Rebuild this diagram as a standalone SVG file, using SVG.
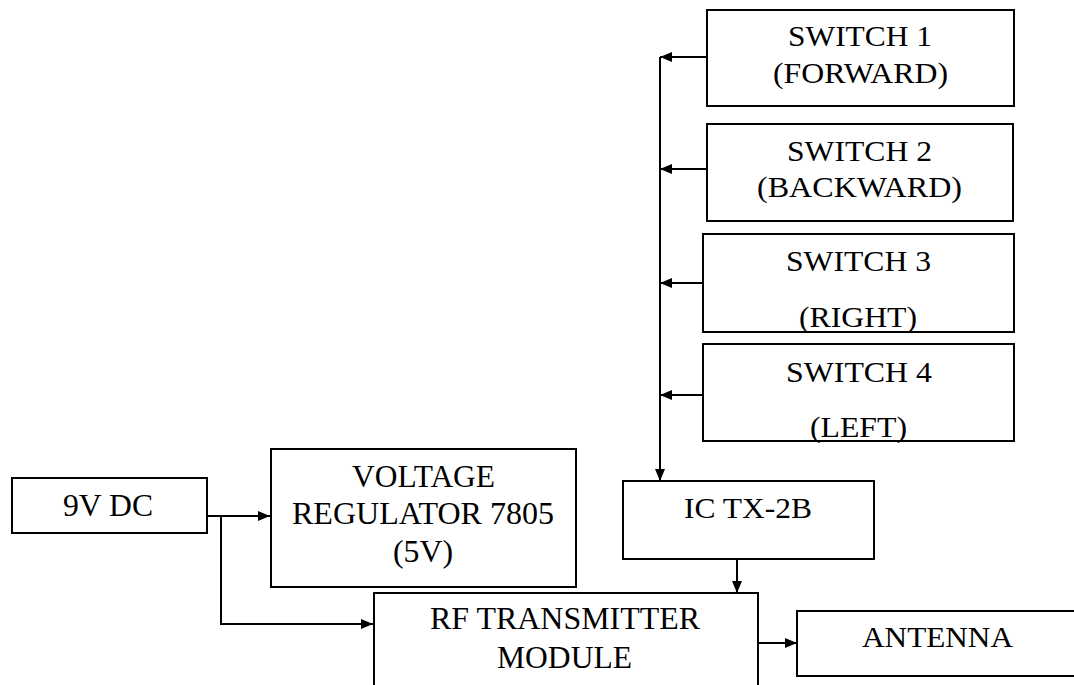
<svg xmlns="http://www.w3.org/2000/svg" width="1074" height="685" viewBox="0 0 1074 685">
<defs>
<style>
.box{fill:#fff;stroke:#000;stroke-width:2}
.t{font-family:"Liberation Serif","Times New Roman",serif;fill:#000;text-anchor:middle}
.s{font-size:29px}
.l{font-size:32px}
.c{fill:none;stroke:#000;stroke-width:2}
</style>
<marker id="ah" markerUnits="userSpaceOnUse" markerWidth="12" markerHeight="10" refX="12" refY="5" orient="auto">
<path d="M0,0 L12,5 L0,10 z" fill="#000"/>
</marker>
</defs>
<rect width="1074" height="685" fill="#fff"/>
<g id="connectors">
<path class="c" d="M660,57 V481" marker-end="url(#ah)"/>
<path class="c" d="M707,57 H660" marker-end="url(#ah)"/>
<path class="c" d="M707,169 H660" marker-end="url(#ah)"/>
<path class="c" d="M703,283 H660" marker-end="url(#ah)"/>
<path class="c" d="M703,395 H660" marker-end="url(#ah)"/>
<path class="c" d="M207,516 H270" marker-end="url(#ah)"/>
<path class="c" d="M221,516 V624 H373" marker-end="url(#ah)"/>
<path class="c" d="M737,559 V593" marker-end="url(#ah)"/>
<path class="c" d="M758,643 H797" marker-end="url(#ah)"/>
</g>
<g id="switch1">
<rect class="box" x="707" y="10" width="307" height="96"/>
<text class="t s" x="860" y="46" textLength="144" lengthAdjust="spacingAndGlyphs">SWITCH 1</text>
<text class="t s" x="860.5" y="83" textLength="175" lengthAdjust="spacingAndGlyphs">(FORWARD)</text>
</g>
<g id="switch2">
<rect class="box" x="707" y="124" width="306" height="97"/>
<text class="t s" x="859.5" y="161" textLength="145" lengthAdjust="spacingAndGlyphs">SWITCH 2</text>
<text class="t s" x="859.5" y="197" textLength="205" lengthAdjust="spacingAndGlyphs">(BACKWARD)</text>
</g>
<g id="switch3">
<rect class="box" x="703" y="234" width="311" height="98"/>
<text class="t s" x="858.5" y="271" textLength="145" lengthAdjust="spacingAndGlyphs">SWITCH 3</text>
<text class="t s" x="858" y="327" textLength="118" lengthAdjust="spacingAndGlyphs">(RIGHT)</text>
</g>
<g id="switch4">
<rect class="box" x="703" y="344" width="311" height="97"/>
<text class="t s" x="859" y="382" textLength="146" lengthAdjust="spacingAndGlyphs">SWITCH 4</text>
<text class="t s" x="858.5" y="437" textLength="97" lengthAdjust="spacingAndGlyphs">(LEFT)</text>
</g>
<g id="ic">
<rect class="box" x="623" y="481" width="251" height="78"/>
<text class="t s" x="748" y="518" textLength="128" lengthAdjust="spacingAndGlyphs">IC TX-2B</text>
</g>
<g id="dc9v">
<rect class="box" x="12" y="478" width="195" height="55"/>
<text class="t l" x="108" y="516" textLength="90" lengthAdjust="spacingAndGlyphs">9V DC</text>
</g>
<g id="regulator">
<rect class="box" x="271" y="449" width="305" height="138"/>
<text class="t l" x="423.5" y="487" textLength="143" lengthAdjust="spacingAndGlyphs">VOLTAGE</text>
<text class="t l" x="423" y="524" textLength="262" lengthAdjust="spacingAndGlyphs">REGULATOR 7805</text>
<text class="t l" x="423" y="562" textLength="60" lengthAdjust="spacingAndGlyphs">(5V)</text>
</g>
<g id="rf">
<rect class="box" x="374" y="593" width="384" height="110"/>
<text class="t l" x="565" y="629" textLength="270" lengthAdjust="spacingAndGlyphs">RF TRANSMITTER</text>
<text class="t l" x="564.5" y="668" textLength="135" lengthAdjust="spacingAndGlyphs">MODULE</text>
</g>
<g id="antenna">
<rect class="box" x="797" y="611" width="290" height="65"/>
<text class="t s" x="937.5" y="647" textLength="151" lengthAdjust="spacingAndGlyphs">ANTENNA</text>
</g>
</svg>
